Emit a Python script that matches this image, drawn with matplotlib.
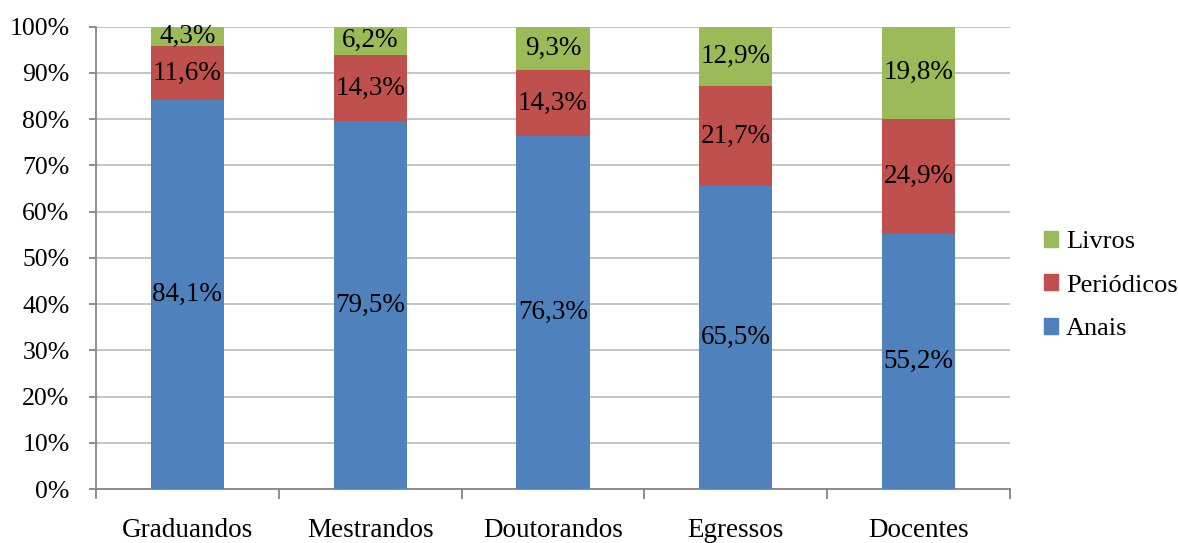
import numpy as np
import matplotlib.pyplot as plt
from matplotlib.patches import Patch

plt.rcParams['font.family'] = ['Liberation Serif', 'DejaVu Serif']

grupos = ['Graduandos', 'Mestrandos', 'Doutorandos', 'Egressos', 'Docentes']
anais = [84.1, 79.5, 76.3, 65.5, 55.2]
periodicos = [11.6, 14.3, 14.3, 21.7, 24.9]
livros = [4.3, 6.2, 9.3, 12.9, 19.8]

cor_anais = '#4F81BD'
cor_period = '#C0504D'
cor_livros = '#9BBB59'

fig = plt.figure(figsize=(11.78, 5.43), dpi=100)
ax = fig.add_axes([0.0815, 0.0994, 0.7759, 0.8517])

x = np.arange(len(grupos))
w = 0.4
base = np.zeros(len(grupos))
for vals, cor in [(anais, cor_anais), (periodicos, cor_period), (livros, cor_livros)]:
    vals = np.array(vals)
    ax.bar(x, vals, w, bottom=base, color=cor, zorder=3)
    for xi, b, v in zip(x, base, vals):
        ax.text(xi, b + v / 2, f'{v:.1f}%'.replace('.', ','), ha='center', va='center',
                fontsize=19.5, zorder=4)
    base = base + vals

ax.set_xlim(-0.5, len(grupos) - 0.5)
ax.set_ylim(0, 100)
ax.set_yticks(np.arange(0, 101, 10))
ax.set_yticklabels([f'{v}%' for v in range(0, 101, 10)], fontsize=18.5)
ax.yaxis.grid(True, color='#BFBFBF', linewidth=1.3, zorder=0)

ax.set_xticks(x)
ax.set_xticklabels(grupos, fontsize=19.5)
ax.set_xticks(np.arange(-0.5, len(grupos), 1), minor=True)
ax.tick_params(axis='x', which='major', length=0, pad=21)
ax.tick_params(axis='x', which='minor', length=7, width=1.3, color='#868686', direction='out')
ax.tick_params(axis='y', length=5, width=1.3, color='#868686', pad=14)

for s in ['top', 'right']:
    ax.spines[s].set_visible(False)
for s in ['left', 'bottom']:
    ax.spines[s].set_color('#868686')
    ax.spines[s].set_linewidth(1.3)

handles = [Patch(color=cor_livros), Patch(color=cor_period), Patch(color=cor_anais)]
fig.legend(handles, ['Livros', 'Periódicos', 'Anais'], loc='center left',
           bbox_to_anchor=(0.886, 0.474), frameon=False, fontsize=19,
           handlelength=0.55, handleheight=0.55, handletextpad=0.3, labelspacing=0.8,
           borderpad=0, borderaxespad=0)

fig.savefig('out.png', dpi=100)
